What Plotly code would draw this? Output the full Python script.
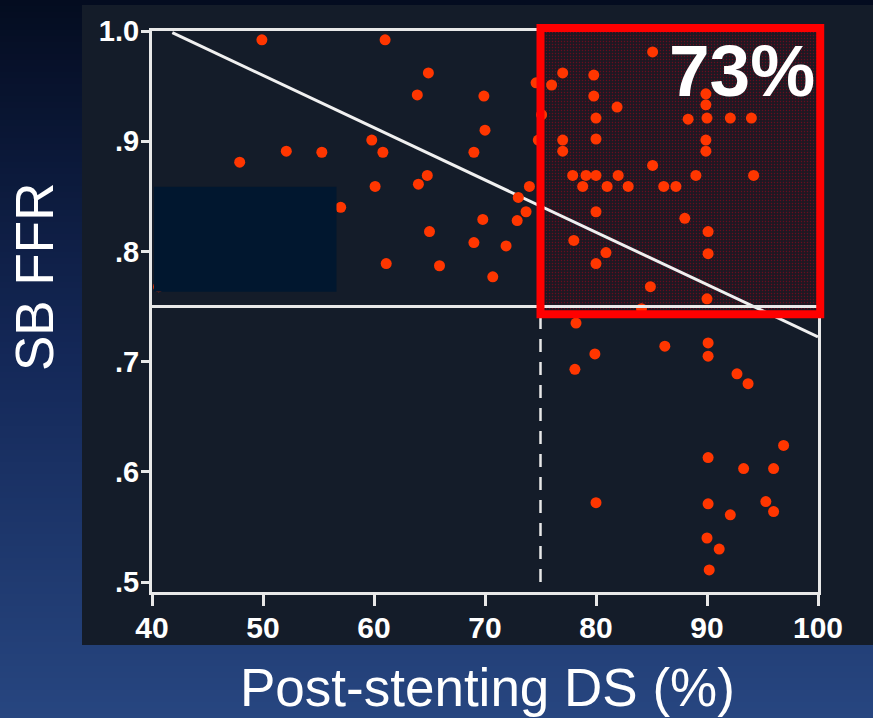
import plotly.graph_objects as go

# Post-stenting diameter stenosis (%) vs side-branch FFR
ds = [
    49.9, 61.0, 64.9, 63.9, 69.9, 70.0, 74.6, 59.8, 60.8, 47.9,
    52.1, 55.3, 69.0, 74.8, 64.8, 64.0, 60.1, 74.0, 73.0, 73.7,
    72.9, 69.8, 57.0, 65.0, 69.0, 71.9, 61.1, 65.9, 70.7, 40.6,
    85.1, 77.0, 79.8, 76.0, 79.8, 89.9, 89.9, 81.9, 75.1, 80.0,
    88.3, 90.0, 92.1, 94.0, 77.0, 80.0, 89.9, 77.0, 89.9, 85.1,
    77.9, 79.1, 80.0, 82.0, 89.0, 94.2, 78.8, 81.0, 82.9, 86.1,
    87.2, 80.0, 88.0, 90.1, 78.0, 80.9, 90.1, 80.0, 84.9, 90.0,
    84.1, 78.2,
    79.9, 78.1, 86.2, 90.1, 90.1, 92.7, 93.7, 96.9, 90.1, 93.3,
    96.0, 80.0, 90.1, 95.3, 96.0, 92.1, 90.0, 91.1, 90.2,
]
ffr = [
    0.992, 0.992, 0.962, 0.942, 0.941, 0.910, 0.953, 0.901, 0.890, 0.881,
    0.891, 0.890, 0.890, 0.901, 0.869, 0.861, 0.859, 0.859, 0.849, 0.836,
    0.828, 0.829, 0.840, 0.818, 0.808, 0.805, 0.789, 0.787, 0.777, 0.768,
    0.981, 0.962, 0.960, 0.951, 0.941, 0.943, 0.933, 0.931, 0.924, 0.921,
    0.920, 0.921, 0.921, 0.921, 0.901, 0.902, 0.901, 0.891, 0.891, 0.878,
    0.869, 0.869, 0.869, 0.869, 0.869, 0.869, 0.859, 0.859, 0.859, 0.859,
    0.859, 0.836, 0.830, 0.818, 0.810, 0.799, 0.798, 0.789, 0.768, 0.757,
    0.748, 0.735,
    0.707, 0.693, 0.714, 0.717, 0.705, 0.689, 0.680, 0.624, 0.613, 0.603,
    0.603, 0.572, 0.571, 0.573, 0.564, 0.561, 0.540, 0.530, 0.511,
]

# Linear fit drawn across the observed range
fit_intercept = 1.1970
fit_slope = -0.004745
fit_x = [41.83, 100.0]
fit_y = [fit_intercept + fit_slope * v for v in fit_x]

DS_CUTOFF = 75
FFR_CUTOFF = 0.75
X_RANGE = [40, 100]
Y_RANGE = [0.491, 1.0]
x_ticks = [40, 50, 60, 70, 80, 90, 100]
y_ticks = [0.5, 0.6, 0.7, 0.8, 0.9, 1.0]
y_ticktext = [".5", ".6", ".7", ".8", ".9", "1.0"]
highlight_label = "73%"

W, H = 873, 718
L, R, T, B = 152, 55, 31, 126
PW, PH = W - L - R, H - T - B


def px_x(p):
    return (p - L) / PW


def px_y(p):
    return (H - B - p) / PH


def dx(v):
    # data x -> paper x
    return (v - X_RANGE[0]) / (X_RANGE[1] - X_RANGE[0])


def dy(v):
    # data y -> paper y
    return (v - Y_RANGE[0]) / (Y_RANGE[1] - Y_RANGE[0])


def lerp(c1, c2, t):
    return tuple(round(a + (b - a) * t) for a, b in zip(c1, c2))


shapes = []
# vertical background gradient (slide backdrop)
stops = [(0, (4, 12, 32)), (360, (20, 40, 88)), (718, (39, 70, 128))]
step = 6
for y0 in range(0, H, step):
    yc = y0 + step / 2
    for (a, ca), (b, cb) in zip(stops[:-1], stops[1:]):
        if a <= yc <= b:
            col = lerp(ca, cb, (yc - a) / (b - a))
            break
    shapes.append(dict(type="rect", xref="paper", yref="paper",
                       x0=px_x(-5), x1=px_x(W + 5), y0=px_y(y0 + step + 0.5), y1=px_y(y0),
                       fillcolor="rgb(%d,%d,%d)" % col, line=dict(width=0), layer="below"))
# dark chart panel
shapes.append(dict(type="rect", xref="paper", yref="paper",
                   x0=px_x(82), x1=px_x(W + 5), y0=px_y(645), y1=px_y(5),
                   fillcolor="#141c29", line=dict(width=0), layer="below"))

# reference lines
shapes.append(dict(type="line", xref="x", yref="y", x0=X_RANGE[0], x1=X_RANGE[1],
                   y0=FFR_CUTOFF, y1=FFR_CUTOFF, line=dict(color="#e8e8e8", width=3)))
shapes.append(dict(type="line", xref="x", yref="y", x0=DS_CUTOFF, x1=DS_CUTOFF,
                   y0=0.5, y1=FFR_CUTOFF - 0.004,
                   line=dict(color="#e8e8e8", width=2.5, dash="13px,10px")))

# red highlight border (paper-referenced so it is not clipped at the frame)
box_x0, box_x1 = DS_CUTOFF, 100.2
box_y0, box_y1 = FFR_CUTOFF - 0.007, 1.0027
shapes.append(dict(type="rect", xref="paper", yref="paper",
                   x0=dx(box_x0), x1=dx(box_x1), y0=dy(box_y0), y1=dy(box_y1),
                   line=dict(color="#ff0000", width=8), fillcolor="rgba(0,0,0,0)", layer="above"))
# navy cover panel
shapes.append(dict(type="rect", xref="x", yref="y", x0=40.18, x1=56.62, y0=0.7634, y1=0.8587,
                   fillcolor="#01172f", line=dict(width=0), layer="above"))

fig = go.Figure()

# textured highlight region
fig.add_trace(go.Scatter(
    x=[box_x0, box_x1, box_x1, box_x0, box_x0],
    y=[box_y0, box_y0, box_y1, box_y1, box_y0],
    mode="none", fill="toself", fillcolor="#2a1622",
    fillpattern=dict(shape=".", fgcolor="#b4001a", bgcolor="#1e1822", size=3, solidity=0.18),
    hoverinfo="skip", showlegend=False,
))

fig.add_trace(go.Scatter(
    x=fit_x, y=fit_y, mode="lines",
    line=dict(color="#f0f0f0", width=3), hoverinfo="skip", showlegend=False,
))

fig.add_trace(go.Scatter(
    x=ds, y=ffr, mode="markers",
    marker=dict(color="#ff3600", size=11, line=dict(width=0)),
    showlegend=False,
))

tick_font = dict(family="Liberation Sans, Arial, sans-serif", size=30, color="#ffffff", weight="bold")

fig.update_layout(
    width=W, height=H, autosize=False,
    margin=dict(l=L, r=R, t=T, b=B, pad=0),
    paper_bgcolor="#0b1a3c", plot_bgcolor="rgba(0,0,0,0)",
    shapes=shapes,
    xaxis=dict(range=X_RANGE, tickvals=x_ticks, showgrid=False, zeroline=False,
               showline=True, linecolor="#e8e8e8", linewidth=3, mirror=True,
               ticks="outside", ticklen=11, tickwidth=2.5, tickcolor="#e8e8e8",
               ticklabelstandoff=-4, tickfont=tick_font),
    yaxis=dict(range=Y_RANGE, tickvals=y_ticks, ticktext=y_ticktext, showgrid=False,
               zeroline=False, showline=True, linecolor="#e8e8e8", linewidth=3, mirror=True,
               ticks="outside", ticklen=8, tickwidth=2.5, tickcolor="#e8e8e8",
               ticklabelstandoff=-4, tickfont=dict(tick_font, size=29)),
    annotations=[
        dict(text=highlight_label, x=99.9, y=0.964, xref="x", yref="y",
             xanchor="right", yanchor="middle", showarrow=False,
             font=dict(family="Liberation Sans, Arial, sans-serif", size=73,
                       color="#ffffff", weight="bold")),
        dict(text="Post-stenting DS (%)", x=px_x(487), y=px_y(687), xref="paper", yref="paper",
             xanchor="center", yanchor="middle", showarrow=False,
             font=dict(family="Liberation Sans, Arial, sans-serif", size=53, color="#ffffff")),
        dict(text="SB FFR", x=px_x(34), y=px_y(277), xref="paper", yref="paper",
             xanchor="center", yanchor="middle", showarrow=False, textangle=-90,
             font=dict(family="Liberation Sans, Arial, sans-serif", size=53, color="#ffffff")),
    ],
)

fig.write_html("out.html")
